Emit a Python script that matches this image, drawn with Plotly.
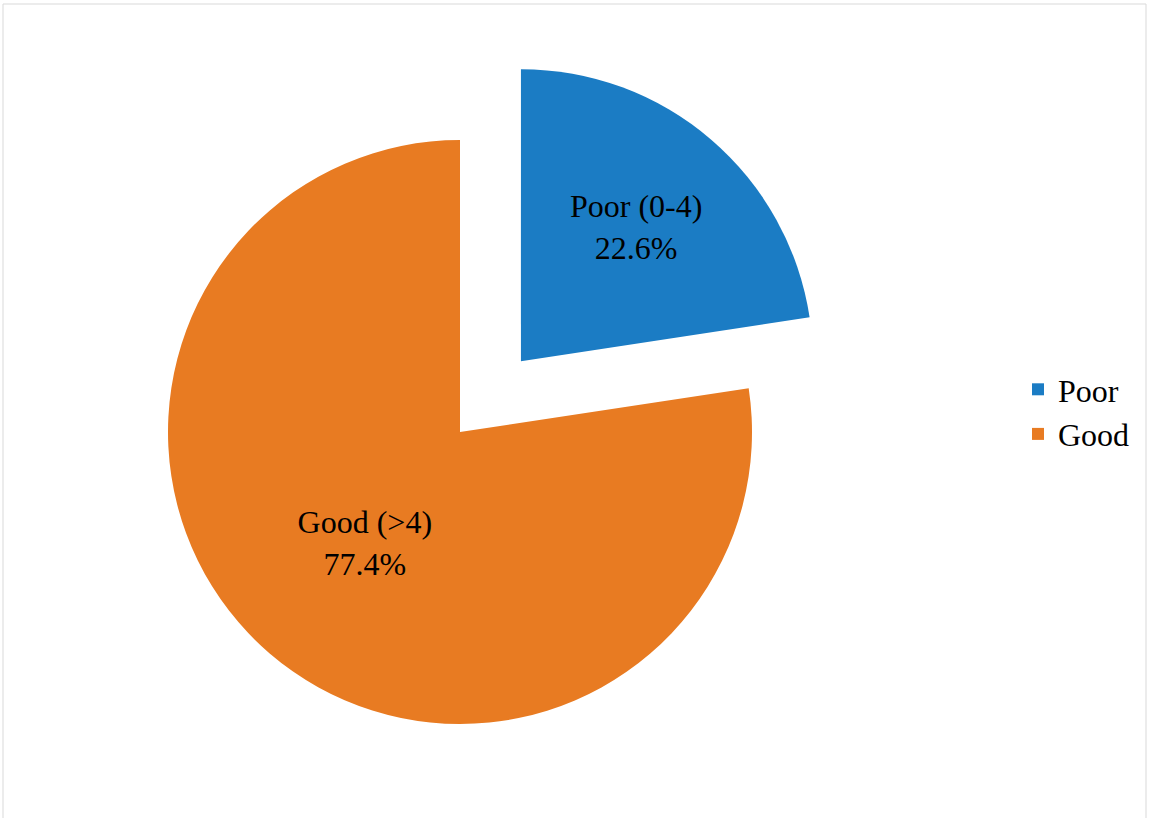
import plotly.graph_objects as go

categories = ["Poor", "Good"]
score_ranges = ["(0-4)", "(>4)"]
values = [22.6, 77.4]
colors = ["#1B7CC4", "#E87B22"]
pulls = [0.32, 0.0]

W, H = 1149, 818
cx, cy, R = 460, 432, 292
side = 2 * R * (1 + max(pulls))

fig = go.Figure(
    go.Pie(
        labels=categories,
        values=values,
        customdata=score_ranges,
        texttemplate="%{label} %{customdata}<br>%{value:.1f}%",
        textinfo="text",
        textposition="inside",
        insidetextorientation="horizontal",
        textfont=dict(family="Liberation Serif", size=32, color="black"),
        marker=dict(colors=colors, line=dict(width=0)),
        pull=pulls,
        sort=False,
        direction="clockwise",
        rotation=0,
        hoverinfo="label+percent",
        domain=dict(
            x=[(cx - side / 2) / W, (cx + side / 2) / W],
            y=[(H - cy - side / 2) / H, (H - cy + side / 2) / H],
        ),
    )
)

fig.update_layout(
    width=W,
    height=H,
    margin=dict(l=0, r=0, t=0, b=0),
    paper_bgcolor="white",
    plot_bgcolor="white",
    showlegend=True,
    uniformtext=dict(minsize=32, mode="show"),
    legend=dict(
        x=1018 / W,
        y=(H - 412) / H,
        xanchor="left",
        yanchor="middle",
        font=dict(family="Liberation Serif", size=32, color="black"),
        itemwidth=30,
    ),
    shapes=[
        dict(
            type="rect",
            xref="paper",
            yref="paper",
            x0=3 / W,
            x1=1146 / W,
            y0=-0.01,
            y1=(H - 4) / H,
            line=dict(color="#D9D9D9", width=1),
            fillcolor="rgba(0,0,0,0)",
        )
    ],
)

fig.write_html("out.html")
